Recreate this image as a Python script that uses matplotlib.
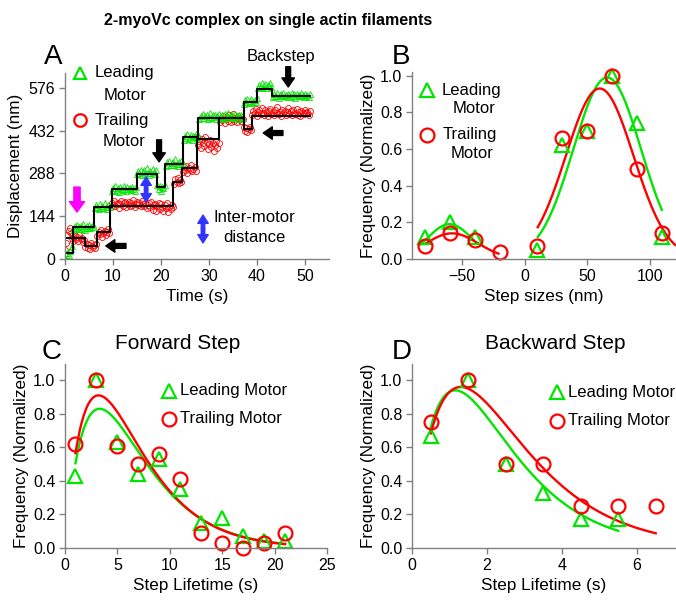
import numpy as np
import matplotlib
matplotlib.use("Agg")
import matplotlib.pyplot as plt
from matplotlib.lines import Line2D

plt.rcParams['font.family'] = ['Liberation Sans', 'DejaVu Sans']

GREEN = '#00E600'
RED = '#FF0000'
SPINE = '#808080'

# ---------------- Panel A data (trace sampled every 0.25 s) ----------------
dt_trace = 0.25
lead_trace = [5, 12, 20, 15, 28, 35, 45,
              98, 110, 104, 115, 100, 108, 112, 102, 118, 106, 99, 111, 105, 114, 103, 109, 116, 107,
              170, 182, 176, 168, 185, 173, 179, 171, 188, 176, 169, 181, 174, 183,
              228, 240, 233, 245, 230, 238, 226, 242, 235, 231, 247, 236, 229, 241, 234, 238, 232, 244, 237, 230, 243,
              285, 296, 288, 300, 283, 292, 298, 287, 305, 291, 284, 297, 289, 302, 293, 286, 299,
              250, 235, 245, 228, 242, 238, 248,
              312, 325, 318, 330, 315, 322, 328, 316, 335, 320, 314, 326, 319, 331, 324,
              402, 415, 408, 420, 405, 412, 418, 400, 414, 409, 422, 406, 416,
              470, 482, 476, 488, 473, 480, 485, 471, 479, 490, 474, 483, 477, 486, 472, 481, 489, 475, 478, 484,
              470, 487, 476, 482, 491, 473, 480, 485, 477, 474, 488, 481, 472, 486, 479, 483, 476,
              522, 535, 528, 540, 525, 532, 538, 524, 530, 536, 527, 541,
              574, 586, 580, 592, 577, 583, 590, 575, 585, 581, 594, 578,
              545, 556, 550, 548, 558, 543, 552, 555, 547, 560, 549, 553, 544, 557, 551, 546, 559, 550, 554, 542,
              556, 548, 553, 547, 558, 551, 545, 555, 549, 552, 546, 557]
trail_trace = [30, 55, 80, 95, 105, 88, 70, 62, 78, 68, 74, 60, 82, 66, 72, 58, 64,
               40, 52, 38, 48, 35, 55, 42, 47, 36, 50,
               78, 92, 84, 98, 75, 88, 95, 80, 90, 100, 86,
               175, 188, 182, 195, 178, 186, 190, 172, 184, 196, 180, 187, 193, 176, 185, 191, 179, 188, 183, 197,
               174, 186, 192, 181, 189, 177, 194, 185, 180, 190, 170, 183, 188, 176, 192, 165, 182, 186, 160, 178,
               190, 168, 184, 175, 162, 181, 172, 188, 158, 176, 168, 182, 174,
               252, 268, 258, 272, 255, 265, 260,
               292, 308, 298, 312, 288, 305, 300, 315, 295, 302, 310, 297,
               410, 385, 398, 375, 405, 390, 380, 412, 395, 370, 388, 400, 378, 392, 365, 385, 398, 375, 390,
               460, 475, 468, 482, 458, 470, 478, 465, 485, 462, 472, 488, 466, 474, 460, 480, 470, 476, 464, 472,
               445, 432, 440, 428, 438, 445, 435,
               485, 498, 490, 505, 482, 495, 500, 488, 508, 492, 486, 502, 494, 480, 498, 506, 489, 495, 484, 500,
               493, 510, 487, 496, 482, 503, 491, 499, 485, 494, 507, 488, 497, 483, 501, 492, 489, 504, 486, 495,
               480, 499, 493, 487, 502, 490, 496, 484, 498]

lead_step_t = [0, 1.6, 6.1, 9.7, 14.9, 19.1, 20.8, 24.6, 27.8, 37.2, 40.1, 43.1, 51]
lead_step_y = [21, 107, 176, 236, 285, 244, 319, 412, 474, 529, 573, 549, 549]
trail_step_t = [0, 4.2, 6.6, 9.4, 22.6, 24.3, 27.5, 32.1, 37.2, 38.9, 51]
trail_step_y = [70, 44, 90, 178, 258, 305, 404, 474, 437, 482, 482]

# ---------------- Panel B data ----------------
b_lead_x = [-80, -60, -40, 10, 30, 50, 70, 90, 110]
b_lead_y = [0.12, 0.20, 0.12, 0.05, 0.62, 0.70, 1.00, 0.74, 0.12]
b_trail_x = [-80, -60, -40, -20, 10, 30, 50, 70, 90, 110]
b_trail_y = [0.07, 0.14, 0.105, 0.036, 0.07, 0.66, 0.70, 1.00, 0.49, 0.14]
# Gaussian fits: (amplitude, centre, sigma, x_from, x_to)
b_lead_fit_back = (0.19, -60, 17.6, -84, -40)
b_trail_fit_back = (0.14, -58, 21.0, -80, -20)
b_lead_fit_fwd = (0.99, 66, 27.0, 10, 110)
b_trail_fit_fwd = (0.93, 60, 27.0, 10, 121)

# ---------------- Panel C data ----------------
c_x = [1, 3, 5, 7, 9, 11, 13, 15, 17, 19, 21]
c_lead_y = [0.43, 1.00, 0.63, 0.44, 0.53, 0.35, 0.15, 0.18, 0.07, 0.04, 0.04]
c_trail_y = [0.62, 1.00, 0.61, 0.50, 0.56, 0.41, 0.09, 0.03, 0.00, 0.03, 0.09]
# gamma-type fits: (peak value, peak time, x_from, x_to)
c_lead_fit = (0.83, 3.3, 1, 21)
c_trail_fit = (0.91, 3.2, 1, 21)

# ---------------- Panel D data ----------------
d_lead_x = [0.5, 1.5, 2.5, 3.5, 4.5, 5.5]
d_lead_y = [0.67, 1.00, 0.50, 0.33, 0.17, 0.17]
d_trail_x = [0.5, 1.5, 2.5, 3.5, 4.5, 5.5, 6.5]
d_trail_y = [0.75, 1.00, 0.50, 0.50, 0.25, 0.25, 0.25]
d_lead_fit = (0.94, 1.15, 0.5, 5.5)
d_trail_fit = (0.96, 1.30, 0.5, 6.5)

W, H = 676, 601
fig = plt.figure(figsize=(W / 100, H / 100), dpi=100)


def px_axes(left, top, right, bottom):
    return fig.add_axes([left / W, 1 - bottom / H, (right - left) / W, (bottom - top) / H])


def style(ax):
    for s in ['top', 'right']:
        ax.spines[s].set_visible(False)
    for s in ['left', 'bottom']:
        ax.spines[s].set_color(SPINE)
        ax.spines[s].set_linewidth(1.0)
    ax.tick_params(direction='out', length=4, width=1, color=SPINE, labelsize=11.5, pad=3)


def ftext(x, y, s, **kw):
    fig.text(x / W, 1 - y / H, s, **kw)


def fmarker(x, y, marker, color, ms=9):
    fig.add_artist(Line2D([x / W], [1 - y / H], transform=fig.transFigure, marker=marker,
                          ms=ms, mfc='none', mec=color, mew=1.6, ls='none'))


def gauss(p, n=200):
    a, c, s, x0, x1 = p
    x = np.linspace(x0, x1, n)
    return x, a * np.exp(-(x - c) ** 2 / (2 * s ** 2))


def gamma_fit(p, n=200):
    a, tp, x0, x1 = p
    x = np.linspace(x0, x1, n)
    return x, a * (x / tp) * np.exp(1 - x / tp)


# ================= Panel A =================
axA = px_axes(65, 73, 329, 259)
style(axA)
tl = np.arange(len(lead_trace)) * dt_trace
tt = np.arange(len(trail_trace)) * dt_trace
axA.plot(tt, trail_trace, ls='none', marker='o', ms=4.3, mfc='none', mec=RED, mew=0.6)
axA.plot(tl, lead_trace, ls='none', marker='^', ms=4.3, mfc='none', mec=GREEN, mew=0.6)
axA.step(lead_step_t, lead_step_y, where='post', color='black', lw=1.5)
axA.step(trail_step_t, trail_step_y, where='post', color='black', lw=1.5)
axA.set_xlim(0, 55)
axA.set_ylim(0, 626)
axA.set_xticks([0, 10, 20, 30, 40, 50])
axA.set_yticks([0, 144, 288, 432, 576])
axA.set_xlabel('Time (s)', fontsize=12.3, labelpad=4)
axA.set_ylabel('Displacement (nm)', fontsize=12.3, labelpad=4)


def arrow(ax, tail, tip, color, hw=0.9, hl=0.65, tw=0.35):
    ax.annotate('', xy=tip, xytext=tail, annotation_clip=False,
                arrowprops=dict(arrowstyle=f'simple,head_width={hw},head_length={hl},tail_width={tw}',
                                color=color, shrinkA=0, shrinkB=0, mutation_scale=10))


def darrow(ax, x, y0, y1, color):
    ym = (y0 + y1) / 2
    arrow(ax, (x, ym), (x, y0), color, hw=0.75, hl=0.6, tw=0.25)
    arrow(ax, (x, ym), (x, y1), color, hw=0.75, hl=0.6, tw=0.25)


arrow(axA, (2.5, 242), (2.5, 158), '#FF00FF', hw=1.1, hl=0.75, tw=0.45)
darrow(axA, 16.9, 192, 276, '#3333FF')
darrow(axA, 28.75, 54, 148, '#3333FF')
arrow(axA, (19.6, 401), (19.6, 327), 'black')
arrow(axA, (12.7, 44), (8.5, 44), 'black')
arrow(axA, (46.5, 647), (46.5, 579), 'black')
arrow(axA, (45.4, 424), (41.3, 424), 'black')

ftext(281, 57, 'Backstep', ha='center', va='center', fontsize=12)
ftext(254, 218, 'Inter-motor', ha='center', va='center', fontsize=12)
ftext(254, 238, 'distance', ha='center', va='center', fontsize=12)

fmarker(80, 73, '^', GREEN, ms=9)
ftext(95, 73, 'Leading', ha='left', va='center', fontsize=12)
ftext(104, 95, 'Motor', ha='left', va='center', fontsize=12)
fmarker(80, 120, 'o', RED, ms=9)
ftext(95, 120, 'Trailing', ha='left', va='center', fontsize=12)
ftext(103, 141, 'Motor', ha='left', va='center', fontsize=12)

# ================= Panel B =================
axB = px_axes(412, 72, 676, 259)
style(axB)
for p, c in [(b_lead_fit_back, GREEN), (b_lead_fit_fwd, GREEN),
             (b_trail_fit_back, RED), (b_trail_fit_fwd, RED)]:
    x, y = gauss(p)
    axB.plot(x, y, color=c, lw=1.7, solid_capstyle='butt')
axB.plot(b_lead_x, b_lead_y, ls='none', marker='^', ms=10, mfc='none', mec=GREEN, mew=1.6, clip_on=False)
axB.plot(b_trail_x, b_trail_y, ls='none', marker='o', ms=10, mfc='none', mec=RED, mew=1.6, clip_on=False)
axB.set_xlim(-90, 121)
axB.set_ylim(0, 1.02)
axB.set_xticks([-50, 0, 50, 100])
axB.set_yticks([0, 0.2, 0.4, 0.6, 0.8, 1.0])
axB.set_yticklabels(['0.0', '0.2', '0.4', '0.6', '0.8', '1.0'])
axB.set_xlabel('Step sizes (nm)', fontsize=12.3, labelpad=4)
axB.set_ylabel('Frequency (Normalized)', fontsize=12.3, labelpad=3)

fmarker(427, 90, '^', GREEN, ms=10)
ftext(442, 90, 'Leading', ha='left', va='center', fontsize=12)
ftext(453, 108, 'Motor', ha='left', va='center', fontsize=12)
fmarker(427, 135, 'o', RED, ms=10)
ftext(443, 135, 'Trailing', ha='left', va='center', fontsize=12)
ftext(451, 153, 'Motor', ha='left', va='center', fontsize=12)

# ================= Panel C =================
axC = px_axes(65, 363.5, 327, 548)
style(axC)
for p, c in [(c_lead_fit, GREEN), (c_trail_fit, RED)]:
    x, y = gamma_fit(p)
    axC.plot(x, y, color=c, lw=1.7)
axC.plot(c_x, c_lead_y, ls='none', marker='^', ms=10, mfc='none', mec=GREEN, mew=1.6, clip_on=False)
axC.plot(c_x, c_trail_y, ls='none', marker='o', ms=10, mfc='none', mec=RED, mew=1.6, clip_on=False)
axC.set_xlim(0, 25)
axC.set_ylim(0, 1.1)
axC.set_xticks([0, 5, 10, 15, 20, 25])
axC.set_yticks([0, 0.2, 0.4, 0.6, 0.8, 1.0])
axC.set_yticklabels(['0.0', '0.2', '0.4', '0.6', '0.8', '1.0'])
axC.set_xlabel('Step Lifetime (s)', fontsize=12.3, labelpad=4)
axC.set_ylabel('Frequency (Normalized)', fontsize=12.3, labelpad=3)
ftext(178, 343, 'Forward Step', ha='center', va='center', fontsize=15)

fmarker(169, 391, '^', GREEN, ms=10)
ftext(180, 391, 'Leading Motor', ha='left', va='center', fontsize=12)
fmarker(169, 419, 'o', RED, ms=10)
ftext(180, 419, 'Trailing Motor', ha='left', va='center', fontsize=12)

# ================= Panel D =================
axD = px_axes(412, 363.5, 674.5, 548)
style(axD)
for p, c in [(d_lead_fit, GREEN), (d_trail_fit, RED)]:
    x, y = gamma_fit(p)
    axD.plot(x, y, color=c, lw=1.7)
axD.plot(d_lead_x, d_lead_y, ls='none', marker='^', ms=10, mfc='none', mec=GREEN, mew=1.6, clip_on=False)
axD.plot(d_trail_x, d_trail_y, ls='none', marker='o', ms=10, mfc='none', mec=RED, mew=1.6, clip_on=False)
axD.set_xlim(0, 7)
axD.set_ylim(0, 1.1)
axD.set_xticks([0, 2, 4, 6])
axD.set_yticks([0, 0.2, 0.4, 0.6, 0.8, 1.0])
axD.set_yticklabels(['0.0', '0.2', '0.4', '0.6', '0.8', '1.0'])
axD.set_xlabel('Step Lifetime (s)', fontsize=12.3, labelpad=4)
axD.set_ylabel('Frequency (Normalized)', fontsize=12.3, labelpad=3)
ftext(555, 343, 'Backward Step', ha='center', va='center', fontsize=15)

fmarker(557, 392, '^', GREEN, ms=10)
ftext(568, 392, 'Leading Motor', ha='left', va='center', fontsize=12)
fmarker(557, 421, 'o', RED, ms=10)
ftext(568, 421, 'Trailing Motor', ha='left', va='center', fontsize=12)

# panel letters and title
ftext(44, 57, 'A', ha='left', va='center', fontsize=20)
ftext(392, 57, 'B', ha='left', va='center', fontsize=20)
ftext(42, 352, 'C', ha='left', va='center', fontsize=20)
ftext(392, 352, 'D', ha='left', va='center', fontsize=20)
ftext(268, 20, '2-myoVc complex on single actin filaments', ha='center', va='center',
      fontsize=11.5, fontweight='bold')

fig.savefig('out.png', dpi=100)
